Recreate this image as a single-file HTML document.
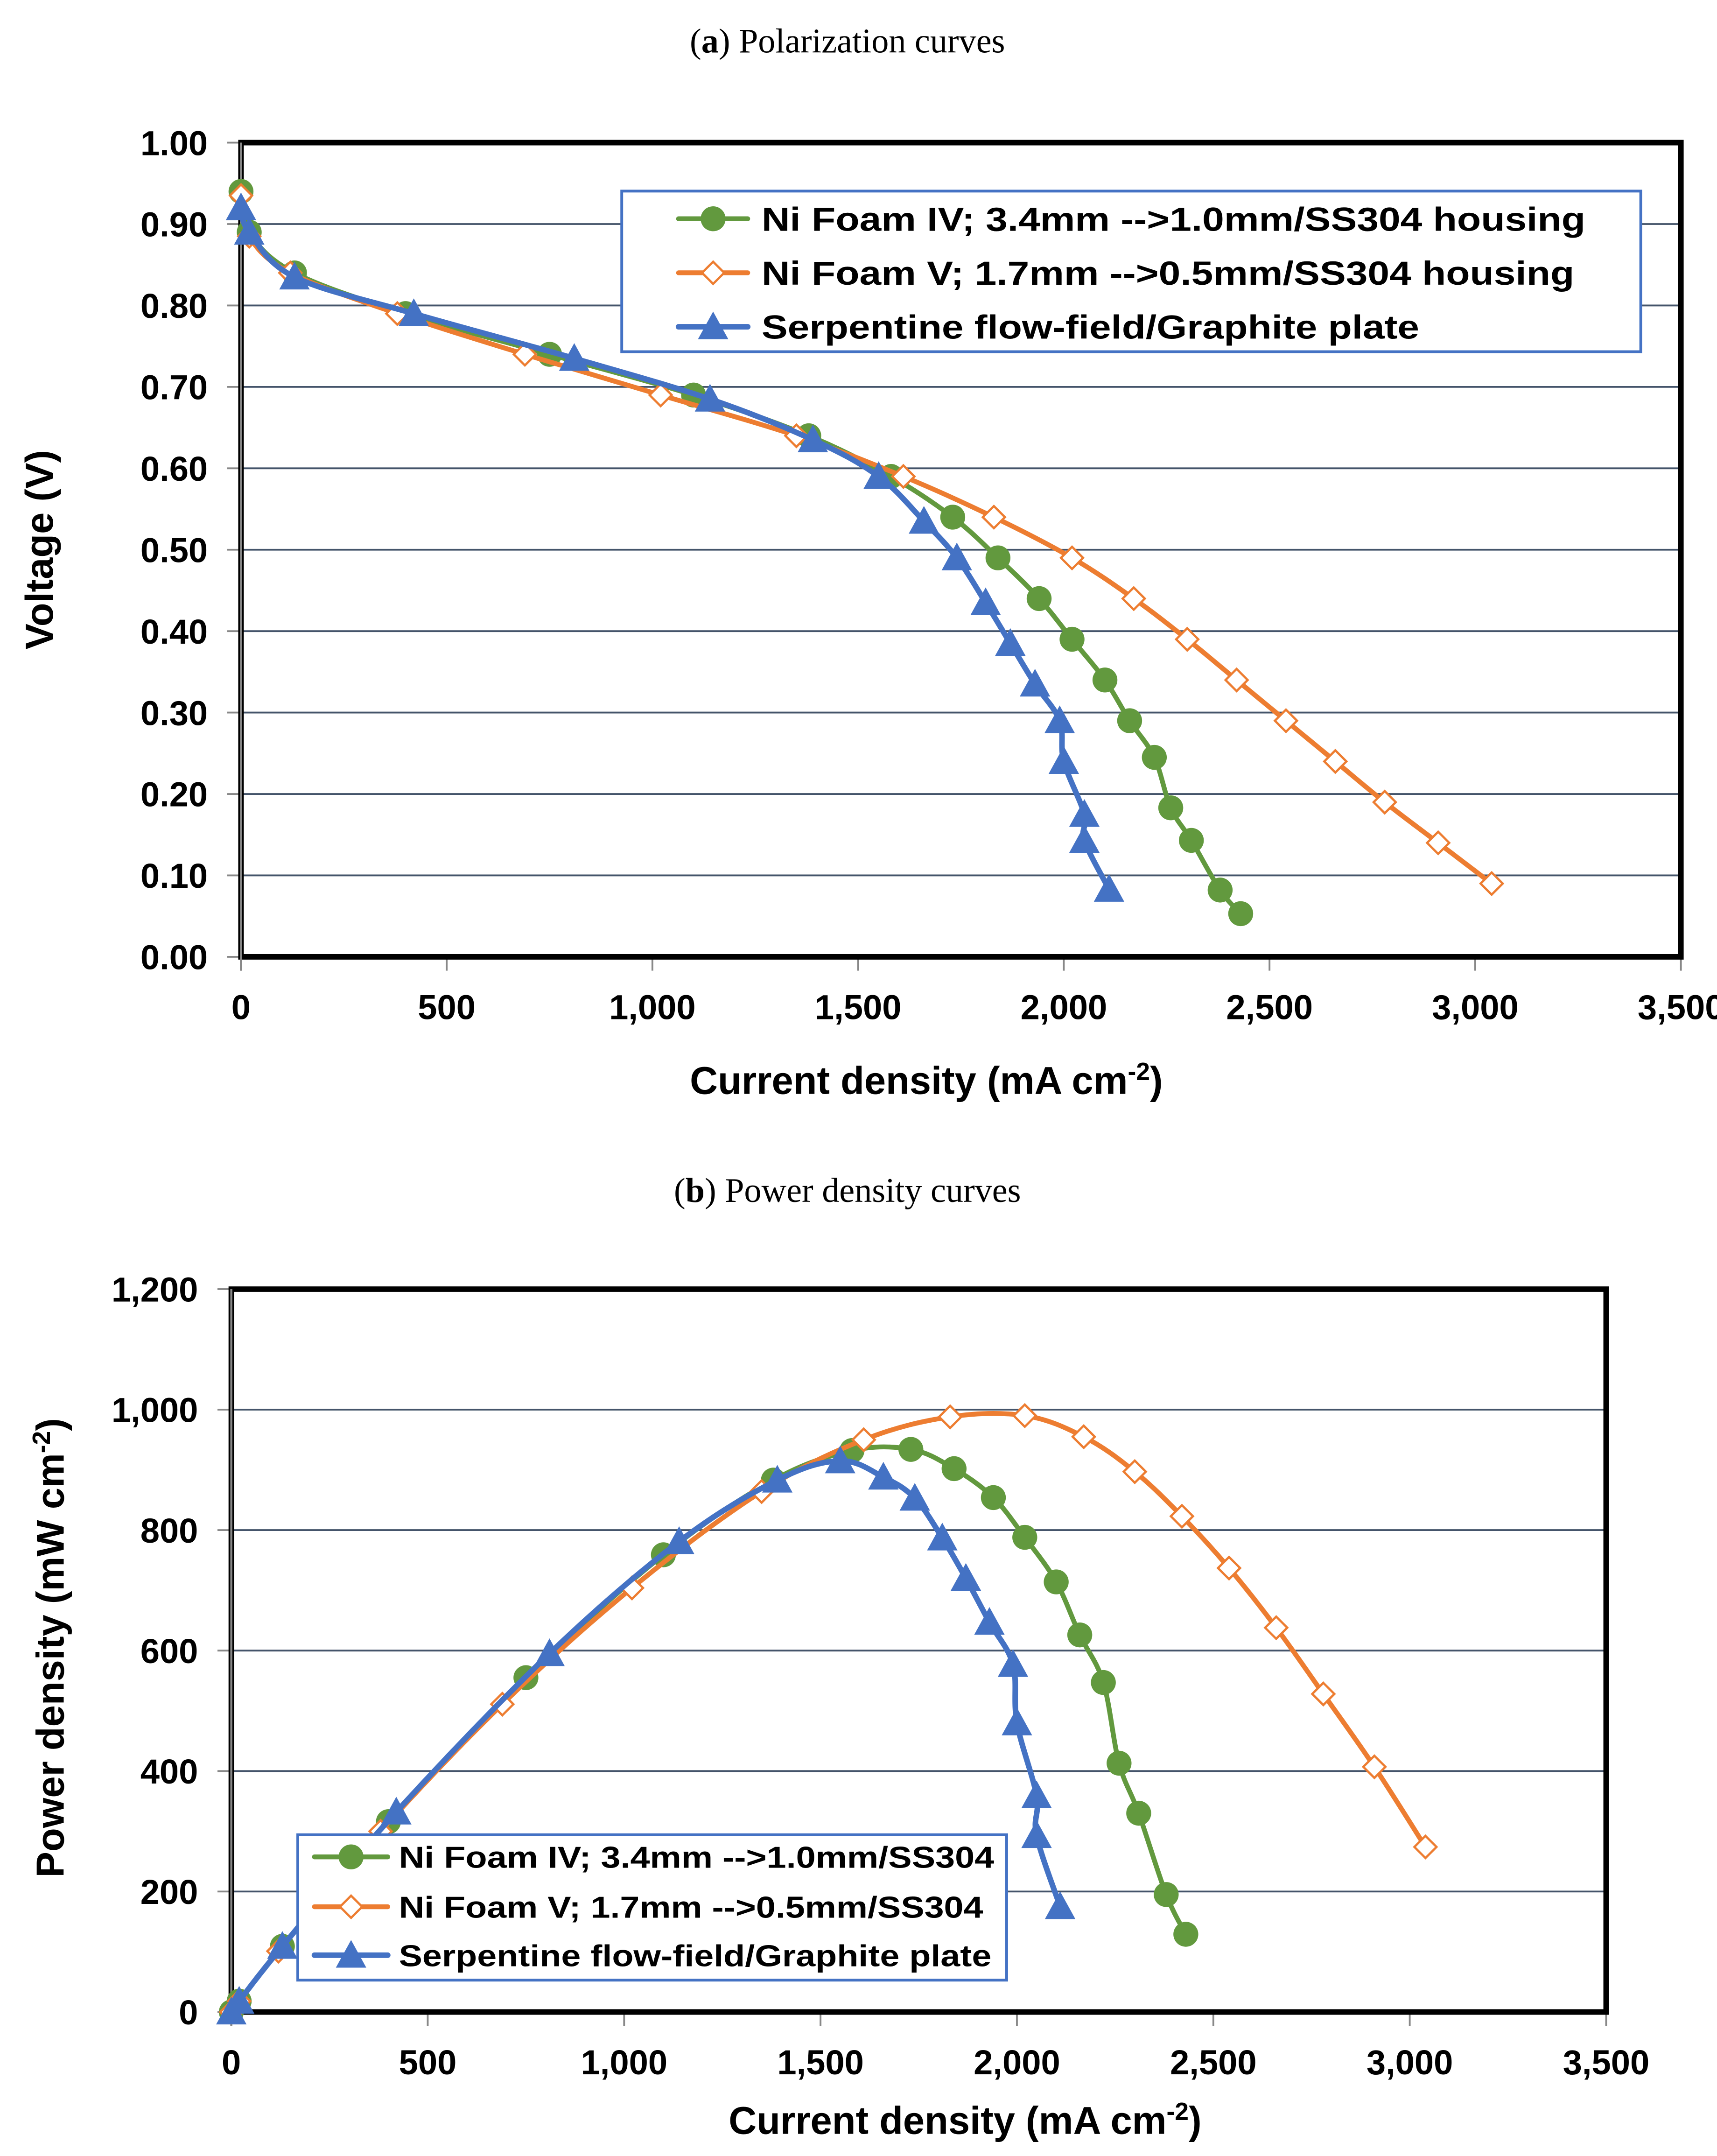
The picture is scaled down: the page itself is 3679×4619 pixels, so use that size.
<!DOCTYPE html>
<html><head><meta charset="utf-8"><style>
html,body{margin:0;padding:0;background:#fff}
svg{display:block}
text{font-family:"Liberation Sans",Arial,sans-serif}
</style></head><body>
<svg id="fig" width="3679" height="4619" viewBox="0 0 1240 1557" xmlns="http://www.w3.org/2000/svg">
<rect width="1240" height="1557" fill="#fff"/>
<text x="612" y="38" text-anchor="middle" style="font-family:'Liberation Serif',serif" font-size="25">(<tspan font-weight="bold">a</tspan>) Polarization curves</text>
<text x="612" y="868" text-anchor="middle" style="font-family:'Liberation Serif',serif" font-size="25">(<tspan font-weight="bold">b</tspan>) Power density curves</text>
<g id="c1"></g>
<g id="c2"></g>
</svg>
<script>
// ---- data: polarization ----
const pGreenX=[0,20,130,400,750,1100,1380,1580,1730,1840,1940,2020,2100,2160,2220,2260,2310,2380,2430];
const pGreenY=[0.94,0.89,0.84,0.79,0.74,0.69,0.64,0.59,0.54,0.49,0.44,0.39,0.34,0.29,0.245,0.183,0.143,0.082,0.053];
const pOrangeX=[0,20,120,380,690,1020,1350,1610,1830,2020,2170,2300,2420,2540,2660,2780,2910,3040];
const pOrangeY=[0.935,0.885,0.84,0.79,0.74,0.69,0.64,0.59,0.54,0.49,0.44,0.39,0.34,0.29,0.24,0.19,0.14,0.09];
const pBlueX=[0,20,130,420,810,1140,1390,1550,1660,1740,1810,1870,1930,1990,2000,2050,2050,2110];
const pBlueY=[0.92,0.89,0.835,0.79,0.735,0.685,0.635,0.59,0.535,0.49,0.435,0.385,0.335,0.29,0.24,0.175,0.143,0.083];
// ---- data: power density ----
const wGreenY=[0,18,109,316,555,759,883,932,934,902,854,788,714,626,547,413,330,195,129];
const wOrangeY=[0,18,101,300,511,704,864,950,988,990,955,897,823,737,638,528,407,274];
const wBlueY=[0,18,109,332,595,781,883,915,888,853,787,720,647,577,480,359,293,175];
const xTicks=[0,500,1000,1500,2000,2500,3000,3500];
const xTickLabels=["0","500","1,000","1,500","2,000","2,500","3,000","3,500"];
const vTicks=[0,0.1,0.2,0.3,0.4,0.5,0.6,0.7,0.8,0.9,1.0];
const vTickLabels=["0.00","0.10","0.20","0.30","0.40","0.50","0.60","0.70","0.80","0.90","1.00"];
const wTicks=[0,200,400,600,800,1000,1200];
const wTickLabels=["0","200","400","600","800","1,000","1,200"];

const NS="http://www.w3.org/2000/svg";
function mk(parent,tag,attrs,txt){const e=document.createElementNS(NS,tag);for(const k in attrs)e.setAttribute(k,attrs[k]);if(txt!==undefined)e.textContent=txt;parent.appendChild(e);return e;}
function smooth(pts){if(pts.length<2)return"";let d="M"+pts[0][0]+","+pts[0][1];for(let i=0;i<pts.length-1;i++){const p0=pts[i-1]||pts[i],p1=pts[i],p2=pts[i+1],p3=pts[i+2]||p2;const t=0.17;const c1=[p1[0]+(p2[0]-p0[0])*t,p1[1]+(p2[1]-p0[1])*t];const c2=[p2[0]-(p3[0]-p1[0])*t,p2[1]-(p3[1]-p1[1])*t];d+=" C"+c1[0]+","+c1[1]+" "+c2[0]+","+c2[1]+" "+p2[0]+","+p2[1];}return d;}
function marker(g,type,x,y,s){
  let e;
  if(type==="circle"){e=mk(g,"circle",{cx:x,cy:y,r:9*s,fill:"#62993E"});}
  else if(type==="diamond"){e=mk(g,"polygon",{points:`${x},${y-8*s} ${x+8*s},${y} ${x},${y+8*s} ${x-8*s},${y}`,fill:"#fff",stroke:"#ED7D31","stroke-width":1.6});}
  else {e=mk(g,"polygon",{points:`${x},${y-11*s} ${x+11*s},${y+9*s} ${x-11*s},${y+9*s}`,fill:"#4472C4"});}
  return e;
}
function chart(g,o){
  const sx=v=>o.x0+(v-0)*(o.x1-o.x0)/3500;
  const sy=v=>o.y0-(v)*(o.y0-o.y1)/o.ymax;
  o.yTicks.forEach((t,i)=>{
    const y=sy(t);
    if(i>0&&i<o.yTicks.length-1){const l=mk(g,"line",{x1:o.x0,x2:o.x1,y1:y,y2:y,stroke:"#44546A","stroke-width":1.3});
      
      }
    mk(g,"line",{x1:o.x0-10,x2:o.x0,y1:y,y2:y,stroke:"#888","stroke-width":1.3});
    const tx=mk(g,"text",{x:o.x0-24,y:y+9,"text-anchor":"end","font-size":25,"font-weight":"bold"},o.yLabels[i]);
    
    
  });
  xTicks.forEach((t,i)=>{
    const x=sx(t);
    mk(g,"line",{x1:x,x2:x,y1:o.y0,y2:o.y0+10,stroke:"#888","stroke-width":1.3});
    const tx=mk(g,"text",{x:x,y:o.y0+45,"text-anchor":"middle","font-size":25,"font-weight":"bold"},xTickLabels[i]);
    
    
  });
  const fr=mk(g,"rect",{x:o.x0,y:o.y1,width:o.x1-o.x0,height:o.y0-o.y1,fill:"none",stroke:"#000","stroke-width":4});
  
  
  mk(g,"line",{x1:o.x0,x2:o.x0,y1:o.y1,y2:o.y0+10,stroke:"#888","stroke-width":1.5});
  o.series.forEach(s=>{
    const sg=mk(g,"g",{});
    
    
    const pts=s.x.map((v,i)=>[sx(v),sy(s.y[i])]);
    mk(sg,"path",{d:smooth(pts),fill:"none",stroke:s.color,"stroke-width":s.w,"stroke-linejoin":"round"});
    pts.forEach(p=>{const m=marker(sg,s.m,p[0],p[1],1);
      
      });
  });
  const yt=mk(g,"text",{x:0,y:0,transform:`translate(${o.ytx},${o.yty}) rotate(-90)`,"text-anchor":"middle","font-size":28,"font-weight":"bold"});
  yt.innerHTML=o.ytitle;
  
  
  const xt=mk(g,"text",{x:o.xtx,y:o.xty,"text-anchor":"middle","font-size":28,"font-weight":"bold"});
  xt.innerHTML='Current density (mA cm<tspan dy="-10" font-size="18">-2</tspan><tspan dy="10">)</tspan>';
  
  
  const L=o.legend;
  const lg=mk(g,"g",{});
  
  
  mk(lg,"rect",{x:L.x,y:L.y,width:L.w,height:L.h,fill:"#fff",stroke:"#4472C4","stroke-width":2});
  o.series.forEach((s,i)=>{
    const y=L.ys[i];
    const e=mk(lg,"g",{});
    
    
    mk(e,"line",{x1:L.lx0,x2:L.lx1,y1:y,y2:y,stroke:s.color,"stroke-width":s.w,"stroke-linecap":"round"});
    marker(e,s.m,(L.lx0+L.lx1)/2,y,1);
    mk(e,"text",{x:L.tx,y:y+L.fs*0.36,"font-size":L.fs,"font-weight":"bold",textLength:L.tl[i],lengthAdjust:"spacingAndGlyphs"},L.labels[i]);
  });
}
chart(document.getElementById("c1"),{x0:174,x1:1214,y0:691,y1:103,ymax:1.0,yTicks:vTicks,yLabels:vTickLabels,
  ytx:38,yty:397,ytitle:"Voltage (V)",xtx:669,xty:790,
  series:[
    {name:"ni-foam-iv",x:pGreenX,y:pGreenY,color:"#62993E",w:3.5,m:"circle"},
    {name:"ni-foam-v",x:pOrangeX,y:pOrangeY,color:"#ED7D31",w:3.5,m:"diamond"},
    {name:"serpentine",x:pBlueX,y:pBlueY,color:"#4472C4",w:4,m:"triangle"}],
  legend:{x:449,y:138,w:736,h:116,ys:[158,197,236],lx0:490,lx1:540,tx:550,fs:24,tl:[595,587,475],
    labels:["Ni Foam IV; 3.4mm -->1.0mm/SS304 housing","Ni Foam V; 1.7mm -->0.5mm/SS304 housing","Serpentine flow-field/Graphite plate"]}
});
chart(document.getElementById("c2"),{x0:167,x1:1160,y0:1453,y1:931,ymax:1200,yTicks:wTicks,yLabels:wTickLabels,
  ytx:46,yty:1190,ytitle:'Power density (mW cm<tspan dy="-10" font-size="18">-2</tspan><tspan dy="10">)</tspan>',xtx:697,xty:1541,
  series:[
    {name:"ni-foam-iv",x:pGreenX,y:wGreenY,color:"#62993E",w:3.5,m:"circle"},
    {name:"ni-foam-v",x:pOrangeX,y:wOrangeY,color:"#ED7D31",w:3.5,m:"diamond"},
    {name:"serpentine",x:pBlueX,y:wBlueY,color:"#4472C4",w:4,m:"triangle"}],
  legend:{x:215,y:1325,w:512,h:105,ys:[1341,1377,1412],lx0:227,lx1:280,tx:288,fs:22,tl:[430,422,428],
    labels:["Ni Foam IV; 3.4mm -->1.0mm/SS304","Ni Foam V; 1.7mm -->0.5mm/SS304","Serpentine flow-field/Graphite plate"]}
});
</script>
</body></html>
